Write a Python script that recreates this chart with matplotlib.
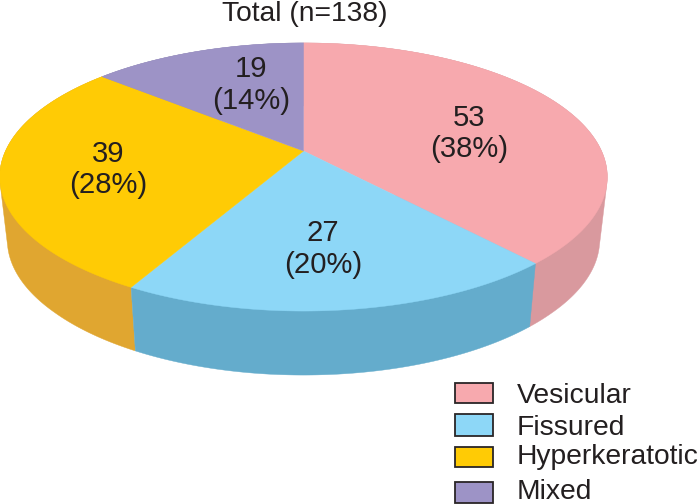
import numpy as np
import matplotlib
matplotlib.use("Agg")
import matplotlib.pyplot as plt
from matplotlib.patches import Polygon, Rectangle

plt.rcParams['font.family'] = ['Liberation Sans', 'DejaVu Sans']

# Data
categories = ["Vesicular", "Fissured", "Hyperkeratotic", "Mixed"]
counts = [53, 27, 39, 19]
percents = [38, 20, 28, 14]
title = "Total (n=138)"

# Style
top_colors = ["#F7A9AE", "#8DD7F7", "#FFCB05", "#9D93C6"]
side_colors = ["#D9999E", "#64ACCC", "#E0A630", "#8A82AE"]
text_color = "#231F20"
label_xy = [(469, 126, 157), (323, 241, 273), (108, 162, 193), (251, 77, 109)]
legend_boxes = [(383, 403), (414, 436), (447, 467), (482, 503)]
legend_base = [403, 435, 464, 499]

W, H, DPI = 699, 504, 100
CX, CY, R, S, K = 303.5, 151.0, 298.0, 129.0, 0.194
DEPTH, SHRINK = 64.0, 0.975


def project(theta):
    """Perspective view of the unit circle; theta clockwise from 12 o'clock."""
    u, v = np.sin(theta), np.cos(theta)
    d = 1 + K * v
    return CX + R * u / d, CY - S * v / d


def project_bottom(theta):
    x, y = project(theta)
    return CX + (x - CX) * SHRINK, y + DEPTH - 0.02 * np.clip(310 - y, 0, 60)


def convex_hull(points):
    pts = sorted(set(map(tuple, points)))

    def half(seq):
        out = []
        for p in seq:
            while len(out) > 1 and ((out[-1][0] - out[-2][0]) * (p[1] - out[-2][1])
                                    - (out[-1][1] - out[-2][1]) * (p[0] - out[-2][0])) <= 0:
                out.pop()
            out.append(p)
        return out[:-1]

    return np.array(half(pts) + half(pts[::-1]))


fig = plt.figure(figsize=(W / DPI, H / DPI), dpi=DPI)
ax = fig.add_axes([0, 0, 1, 1])
ax.set_xlim(0, W)
ax.set_ylim(H, 0)
ax.axis("off")

edges = 2 * np.pi * np.concatenate([[0], np.cumsum(counts)]) / np.sum(counts)

# Sides: hull of each slice's top and bottom arcs; the front slice goes last,
# and the top face paints over everything that is hidden
for i in [3, 0, 2, 1]:
    col = side_colors[i]
    t = np.linspace(edges[i], edges[i + 1], 300)
    xt, yt = project(t)
    xb, yb = project_bottom(t)
    pts = np.column_stack([np.r_[xt, xb], np.r_[yt, yb]])
    ax.add_patch(Polygon(convex_hull(pts), closed=True, fc=col, ec=col, lw=0.3, zorder=1))

# Top face
for i, col in enumerate(top_colors):
    t = np.linspace(edges[i], edges[i + 1], 200)
    xt, yt = project(t)
    pts = np.column_stack([np.r_[CX, xt], np.r_[CY, yt]])
    ax.add_patch(Polygon(pts, closed=True, fc=col, ec=col, lw=0.3, zorder=2))

PT = 72 / DPI
big = 29.3 * PT
for (x, y1, y2), n, p in zip(label_xy, counts, percents):
    ax.text(x, y1, str(n), ha="center", va="baseline", fontsize=big, color=text_color, zorder=3)
    ax.text(x, y2, f"({p}%)", ha="center", va="baseline", fontsize=big, color=text_color, zorder=3)

ax.text(304.5, 21, title, ha="center", va="baseline", fontsize=28.3 * PT, color=text_color, zorder=3)

for (y0, y1), base, name, col in zip(legend_boxes, legend_base, categories, top_colors):
    ax.add_patch(Rectangle((455, y0), 38, y1 - y0, fc=col, ec="#2A2526", lw=1.3, zorder=3))
    ax.text(517, base, name, ha="left", va="baseline", fontsize=28.2 * PT, color=text_color, zorder=3)

fig.savefig("out.png", dpi=DPI)
